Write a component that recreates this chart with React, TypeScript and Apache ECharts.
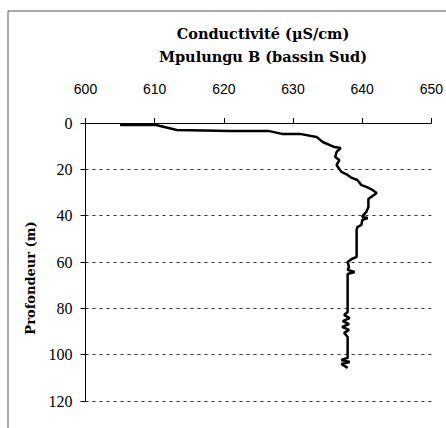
import React, { useEffect, useRef } from "react";
import * as echarts from "echarts";

const titleLines = ["Conductivité (µS/cm)", "Mpulungu B (bassin Sud)"];
const yAxisName = "Profondeur (m)";

const conductivity = [
  605.0, 610.2, 613.2, 620.9, 626.6, 628.4, 631.0, 633.4, 634.3, 636.0,
  636.9, 636.3, 636.1, 636.7, 636.3, 636.6, 637.0, 637.9, 638.5, 639.3,
  639.9, 640.6, 641.5, 642.1, 641.3, 640.9, 640.9, 640.6, 640.3, 640.0,
  640.8, 640.0, 639.9, 639.3, 639.2, 639.2, 638.5, 637.9, 638.1, 637.9,
  638.9, 637.9, 637.9, 637.4, 638.2, 637.2, 638.1, 637.1, 638.1, 637.4,
  637.9, 637.9, 637.0, 638.2, 637.0, 637.9,
];
const depth = [
  0.9, 0.9, 3.0, 3.5, 3.5, 4.7, 4.7, 6.0, 8.2, 10.4,
  10.8, 12.5, 14.7, 16.0, 18.1, 19.4, 21.1, 22.4, 23.7, 24.6,
  26.8, 27.6, 28.9, 30.2, 31.9, 32.8, 36.3, 38.4, 39.3, 40.6,
  41.0, 41.9, 44.0, 44.9, 46.2, 57.8, 58.7, 60.0, 62.1, 63.4,
  64.3, 65.2, 81.6, 82.9, 84.2, 85.5, 86.8, 88.0, 89.3, 90.6,
  92.3, 101.4, 102.3, 103.2, 104.0, 105.7,
];

const xMin = 600, xMax = 650, xStep = 10;
const yMin = 0, yMax = 120, yStep = 20;

export default function App() {
  const ref = useRef<HTMLDivElement>(null);
  useEffect(() => {
    if (!ref.current) return;
    const chart = echarts.init(ref.current, null, { renderer: "svg" });
    const data = conductivity.map((c, i) => [c, depth[i]]);
    const titleStyle = { textAlign: "center", textVerticalAlign: "middle", fontFamily: "DejaVu Serif", fontWeight: "bold", fontSize: 14.5, fill: "#000" };
    chart.setOption({
      animation: false,
      backgroundColor: "#ffffff",
      grid: { left: 85.5, right: 14, top: 123, bottom: 27, containLabel: false },
      xAxis: {
        type: "value",
        position: "top",
        min: xMin,
        max: xMax,
        interval: xStep,
        axisLine: { show: true, onZero: false, lineStyle: { color: "#000", width: 1 } },
        axisTick: { show: true, inside: false, length: 5, lineStyle: { color: "#000" } },
        axisLabel: { margin: 27, color: "#000", fontFamily: "Liberation Sans", fontSize: 14 },
        splitLine: { show: false },
      },
      yAxis: {
        type: "value",
        inverse: true,
        min: yMin,
        max: yMax,
        interval: yStep,
        axisLine: { show: true, onZero: false, lineStyle: { color: "#000", width: 1 } },
        axisTick: { show: true, inside: false, length: 5, lineStyle: { color: "#000" } },
        axisLabel: { margin: 13, color: "#000", fontFamily: "Liberation Serif", fontSize: 16 },
        splitLine: { show: true, lineStyle: { type: [3, 4], color: "#333", width: 1 } },
      },
      graphic: [
        { type: "line", shape: { x1: 8, y1: 11, x2: 446, y2: 11 }, style: { stroke: "#555", lineWidth: 1 } },
        { type: "line", shape: { x1: 8, y1: 11, x2: 8, y2: 428 }, style: { stroke: "#555", lineWidth: 1 } },
        { type: "text", x: 263, y: 33, style: { ...titleStyle, text: titleLines[0] } },
        { type: "text", x: 263, y: 56, style: { ...titleStyle, text: titleLines[1] } },
        {
          type: "text", x: 30, y: 278, rotation: Math.PI / 2,
          style: { text: yAxisName, textAlign: "center", textVerticalAlign: "middle", fontFamily: "DejaVu Serif", fontWeight: "bold", fontSize: 13, fill: "#000" },
        },
      ],
      series: [
        {
          type: "line",
          data,
          showSymbol: false,
          symbol: "none",
          lineStyle: { color: "#000", width: 2.5 },
        },
      ],
    });
    return () => chart.dispose();
  }, []);
  return <div ref={ref} style={{ position: "fixed", left: 0, top: 0, width: 446, height: 428 }} />;
}
